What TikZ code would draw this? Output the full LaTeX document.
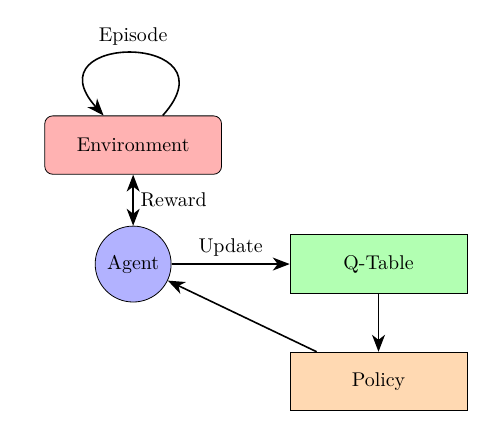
\documentclass[tikz,border=0pt]{standalone}
\usetikzlibrary{arrows.meta}

\begin{document}
\begin{tikzpicture}[>={Stealth[length=8.5pt,width=6.5pt,inset=2.5pt]}]
\useasboundingbox (-2.35,-2.98) rectangle (6.28,4.66);
\tikzset{box/.style={draw,minimum width=3.12cm,minimum height=1.03cm},
  link/.style={->,thick}}
% Knoten
\node[box,rounded corners=4pt,fill=red!30] (env) at (0,2.1) {Environment};
\node[draw,circle,fill=blue!30,minimum size=1.34cm,inner sep=0pt] (agent) at (0,0) {Agent};
\node[box,fill=green!30] (qtab) at (4.33,0) {Q-Table};
\node[box,fill=orange!30] (pol) at (4.33,-2.07) {Policy};
% Pfeile
\draw[link] (env.45) to[out=48,in=132,looseness=4.85] node[above] {Episode} (env.135);
\draw[<->,thick] (env) -- node[right] {Reward} (agent);
\draw[link] (agent) -- node[above] {Update} (qtab);
\draw[link] (qtab) -- (pol);
\draw[link] (pol) -- (agent);
\end{tikzpicture}
\end{document}
